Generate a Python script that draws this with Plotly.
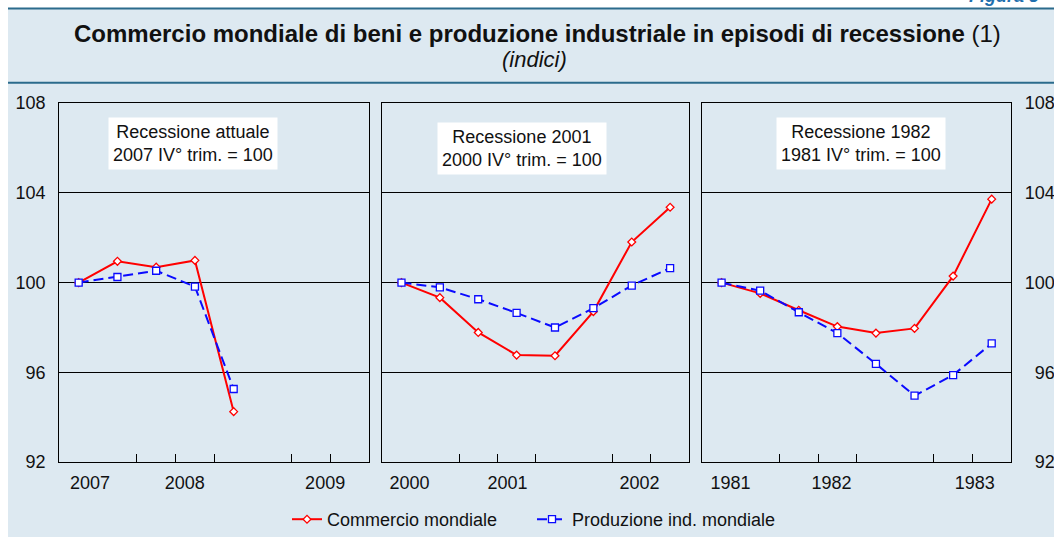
import plotly.graph_objects as go

# ---------------- data ----------------
quarters_p1 = [0, 1, 2, 3, 4]              # quarters after base (IV trim.)
quarters_p23 = [0, 1, 2, 3, 4, 5, 6, 7]

comm_2007 = [100.0, 100.95, 100.69, 100.99, 94.25]
prod_2007 = [100.0, 100.25, 100.53, 99.82, 95.26]

comm_2001 = [100.0, 99.33, 97.78, 96.77, 96.74, 98.71, 101.81, 103.36]
prod_2001 = [100.0, 99.79, 99.26, 98.65, 98.00, 98.86, 99.87, 100.65]

comm_1982 = [100.0, 99.52, 98.77, 98.04, 97.75, 97.96, 100.29, 103.72]
prod_1982 = [100.0, 99.64, 98.68, 97.75, 96.38, 94.96, 95.88, 97.29]

year_labels = [["2007", "2008", "2009"], ["2000", "2001", "2002"], ["1981", "1982", "1983"]]
year_label_pos = [[0.29, 2.74, 6.36], [0.21, 2.76, 6.20], [0.23, 2.85, 6.56]]
year_starts = [0.5, 4.5]
quarter_ticks = [1.5, 2.5, 3.5, 5.5, 6.5]
y_ticks = [92, 96, 100, 104, 108]
y_ticktext_right = ["\u00a0\u00a092", "\u00a0\u00a096", "100", "104", "108"]

panel_titles = ["Recessione attuale<br>2007 IV° trim. = 100",
                "Recessione 2001<br>2000 IV° trim. = 100",
                "Recessione 1982<br>1981 IV° trim. = 100"]

names = ["Commercio mondiale", "Produzione ind. mondiale"]

# ---------------- style ----------------
W, H = 1054, 538
FONT = "Liberation Sans, Arial, Helvetica, sans-serif"
RED = "#ff0000"
BLUE = "#0a0aff"
BG = "#dde9f1"
TEAL = "#2b6b8c"
TXT = "#111111"
FS = 18

fig = go.Figure()

panels = [
    (quarters_p1, comm_2007, prod_2007),
    (quarters_p23, comm_2001, prod_2001),
    (quarters_p23, comm_1982, prod_1982),
]

for i, (q, comm, prod) in enumerate(panels):
    xa = "x" if i == 0 else f"x{i+1}"
    ya = "y" if i == 0 else f"y{i+1}"
    fig.add_trace(go.Scatter(
        x=q, y=comm, xaxis=xa, yaxis=ya, name=names[0], mode="lines+markers",
        line=dict(color=RED, width=2),
        marker=dict(symbol="diamond", size=6, color="white", line=dict(color=RED, width=1.3)),
        showlegend=(i == 0), legendrank=1))
    fig.add_trace(go.Scatter(
        x=q, y=prod, xaxis=xa, yaxis=ya, name=names[1], mode="lines+markers",
        line=dict(color=BLUE, width=2, dash="10px,5px"),
        marker=dict(symbol="square", size=7, color="white", line=dict(color=BLUE, width=1.3)),
        showlegend=(i == 0), legendrank=2))

# domains in pixels -> fractions
x_dom_px = [(59.3, 369.3), (382.3, 689.3), (702.3, 1011.0)]
y_top_px, y_bot_px = 103.3, 463.0
y_dom = [1 - y_bot_px / H, 1 - y_top_px / H]

axis_common = dict(showline=True, linecolor="black", linewidth=1.3, mirror=True,
                   zeroline=False, automargin=False)

for i in range(3):
    xkey = "xaxis" if i == 0 else f"xaxis{i+1}"
    ykey = "yaxis" if i == 0 else f"yaxis{i+1}"
    ya = "y" if i == 0 else f"y{i+1}"
    xa = "x" if i == 0 else f"x{i+1}"
    fig.layout[xkey] = dict(
        domain=[x_dom_px[i][0] / W, x_dom_px[i][1] / W], anchor=ya,
        range=[-0.5, 7.5], tickmode="array", tickvals=year_label_pos[i],
        ticktext=year_labels[i], ticks="", showgrid=False,
        tickfont=dict(family=FONT, size=FS, color=TXT), ticklabelstandoff=4,
        minor=dict(tickmode="array", tickvals=quarter_ticks, ticks="inside",
                   ticklen=8, tickwidth=1, tickcolor="black", showgrid=False),
        **axis_common)
    ycfg = dict(
        domain=y_dom, anchor=xa, range=[92, 108], tickmode="array", tickvals=y_ticks,
        showgrid=True, gridcolor="black", gridwidth=1, ticks="",
        tickfont=dict(family=FONT, size=FS, color=TXT),
        **axis_common)
    if i == 0:
        ycfg.update(showticklabels=True, side="left", ticklabelstandoff=9)
    elif i == 2:
        ycfg.update(showticklabels=True, side="right", ticklabelstandoff=9,
                    ticktext=y_ticktext_right)
    else:
        ycfg.update(showticklabels=False)
    fig.layout[ykey] = ycfg

    for xs in year_starts:
        fig.add_shape(type="line", xref=xa, yref=f"{ya} domain", x0=xs, x1=xs, y0=0, y1=1,
                      line=dict(color="black", width=1), layer="below")

# panel text boxes
panel_text_pos = [(0.431, 0.887), (0.456, 0.873), (0.513, 0.887)]
for i in range(3):
    xa = "x" if i == 0 else f"x{i+1}"
    ya = "y" if i == 0 else f"y{i+1}"
    fig.add_annotation(text=panel_titles[i], xref=f"{xa} domain", yref=f"{ya} domain",
                       x=panel_text_pos[i][0], y=panel_text_pos[i][1], showarrow=False,
                       xanchor="center", yanchor="middle", align="center",
                       font=dict(family=FONT, size=FS, color=TXT),
                       bgcolor="white", borderpad=4)

# header background and rules
fig.add_shape(type="rect", xref="paper", yref="paper", x0=8 / W, x1=1, y0=0, y1=1 - 8.5 / H,
              fillcolor=BG, line=dict(width=0), layer="below")
fig.add_shape(type="line", xref="paper", yref="paper", x0=8 / W, x1=1, y0=1 - 8.5 / H, y1=1 - 8.5 / H,
              line=dict(color=TEAL, width=2))
fig.add_shape(type="line", xref="paper", yref="paper", x0=8 / W, x1=1, y0=1 - 83 / H, y1=1 - 83 / H,
              line=dict(color=TEAL, width=2))

fig.add_annotation(text="<b>Commercio mondiale di beni e produzione industriale in episodi di recessione</b> (1)",
                   xref="paper", yref="paper", x=538 / W, y=1 - 34 / H, showarrow=False,
                   xanchor="center", yanchor="middle",
                   font=dict(family=FONT, size=24, color=TXT))
fig.add_annotation(text="<i>(indici)</i>", xref="paper", yref="paper", x=534.5 / W, y=1 - 60 / H,
                   showarrow=False, xanchor="center", yanchor="middle",
                   font=dict(family=FONT, size=22, color=TXT))
fig.add_annotation(text="<b><i>Figura 3</i></b>", xref="paper", yref="paper", x=967 / W, y=1 - 8 / H,
                   showarrow=False, xanchor="left", yanchor="bottom",
                   font=dict(family=FONT, size=18, color="#1f6fae"))

fig.update_layout(
    width=W, height=H, template="none",
    margin=dict(l=0, r=0, t=0, b=0, pad=0),
    paper_bgcolor="white", plot_bgcolor="white",
    font=dict(family=FONT, size=FS, color=TXT),
    legend=dict(orientation="h", x=532 / W, xanchor="center", y=1 - 520 / H, yanchor="middle",
                bgcolor="rgba(0,0,0,0)", font=dict(family=FONT, size=FS, color=TXT),
                entrywidth=200, traceorder="normal"),
)

fig.write_html("out.html", config={"displayModeBar": False},
               post_script="document.body.style.margin='0';document.body.style.overflow='hidden';")
